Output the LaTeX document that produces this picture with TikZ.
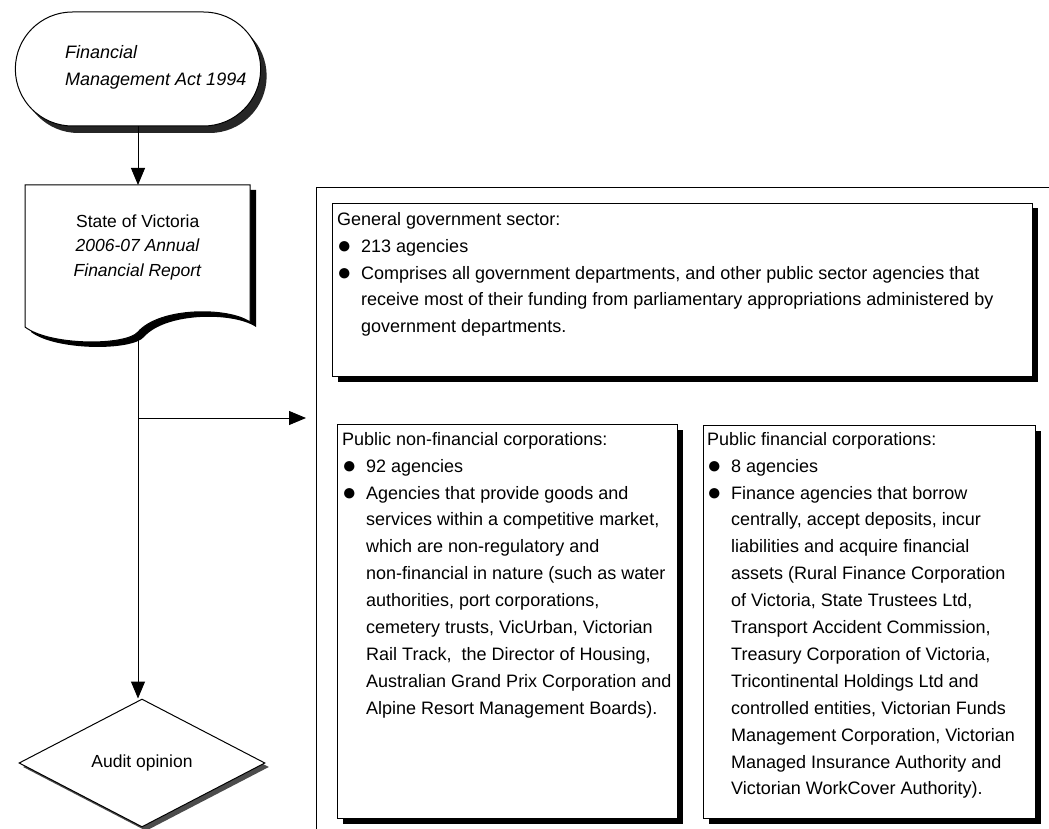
\documentclass[tikz,border=0pt]{standalone}
\usepackage{fontspec}
\setmainfont{Liberation Sans}
\usepackage{tikz}
\usetikzlibrary{shapes,shapes.geometric,shapes.misc,arrows,arrows.meta,shadows}

\newcommand{\itm}{\makebox[24pt][l]{\raisebox{-1pt}{\fontsize{24}{24}\selectfont ●}}}
\newcommand{\ind}{\hspace*{24pt}}
\newcommand{\reportpath}{(25,185) -- (250,185) -- (250,322) .. controls (228,307) and (160,307) .. (138,332) .. controls (126,346) and (50,346) .. (25,327) -- cycle}

\tikzset{
    flowline/.style={line width=1pt},
    flowarrow/.style={line width=1pt,-{Triangle[length=17pt,width=14pt]}},
    hardshadow/.style={drop shadow={shadow xshift=5pt,shadow yshift=-5pt,fill=black,opacity=1}},
    terminal/.style={rounded rectangle,draw,line width=1pt,fill=white,minimum width=252pt,minimum height=114pt,
        drop shadow={shadow xshift=6pt,shadow yshift=-7pt,fill=black!85,opacity=1}},
    decision/.style={diamond,draw,line width=1pt,fill=white,minimum width=246pt,minimum height=128pt,inner sep=0pt,
        drop shadow={shadow xshift=4pt,shadow yshift=-4pt,fill=black!70,opacity=1}},
    panel/.style={draw,line width=1pt,fill=white,hardshadow,anchor=north west,inner sep=0pt},
    paneltext/.style={anchor=north west,align=left,inner sep=0pt,font=\fontsize{18}{26.9}\selectfont},
}

\begin{document}
\begin{tikzpicture}[x=1pt,y=-1pt]
    \useasboundingbox (0,0) rectangle (1049,829);

    % Draw the act terminator
    \node[terminal] (act) at (138,69) {};
    \node[anchor=north west,align=left,inner sep=0pt,font=\fontsize{18}{27}\selectfont\itshape] (acttext) at (65,45)
        {Financial\\Management Act 1994};

    % Draw the report document
    \fill[black,shift={(6,5)}] \reportpath;
    \filldraw[flowline,fill=white] \reportpath;
    \node[minimum width=225pt,minimum height=124pt,anchor=north west,inner sep=0pt,align=center,
        font=\fontsize{17.5}{24.5}\selectfont] (report) at (25,185)
        {State of Victoria\\\textit{2006-07 Annual}\\\textit{Financial Report}};
    \coordinate (tail) at (138,332);

    % Draw the audit opinion
    \node[decision,font=\fontsize{17.5}{20}\selectfont] (audit) at (142,763) {Audit opinion};

    % Flow connectors
    \draw[flowarrow] (act.south) -- (act.south |- report.north);
    \draw[flowarrow] (tail) -- (tail |- audit.north);
    \coordinate (split) at (138,418);
    \coordinate (frame) at (316,188);
    \draw[flowarrow] (split) -- ([xshift=-10pt]split -| frame);

    % Sector bracket
    \draw[flowline] (316,829) -- (frame) -- (1049,188);

    % Sector panels
    \node[panel,minimum width=700pt,minimum height=173pt] (gen) at (332,203) {};
    \node[panel,minimum width=340pt,minimum height=394pt] (pnfc) at (337,424) {};
    \node[panel,minimum width=332pt,minimum height=393pt] (pfc) at (703,425) {};

    \node[paneltext] (gentext) at (337,212) {General government sector:\\
        \itm 213 agencies\\
        \itm Comprises all government departments, and other public sector agencies that\\
        \ind receive most of their funding from parliamentary appropriations administered by\\
        \ind government departments.};

    \node[paneltext] (pnfctext) at (342,432) {Public non-financial corporations:\\
        \itm 92 agencies\\
        \itm Agencies that provide goods and\\
        \ind services within a competitive market,\\
        \ind which are non-regulatory and\\
        \ind non-financial in nature (such as water\\
        \ind authorities, port corporations,\\
        \ind cemetery trusts, VicUrban, Victorian\\
        \ind Rail Track,\ \ the Director of Housing,\\
        \ind Australian Grand Prix Corporation and\\
        \ind Alpine Resort Management Boards).};

    \node[paneltext] (pfctext) at (707,432) {Public financial corporations:\\
        \itm 8 agencies\\
        \itm Finance agencies that borrow\\
        \ind centrally, accept deposits, incur\\
        \ind liabilities and acquire financial\\
        \ind assets (Rural Finance Corporation\\
        \ind of Victoria, State Trustees Ltd,\\
        \ind Transport Accident Commission,\\
        \ind Treasury Corporation of Victoria,\\
        \ind Tricontinental Holdings Ltd and\\
        \ind controlled entities, Victorian Funds\\
        \ind Management Corporation, Victorian\\
        \ind Managed Insurance Authority and\\
        \ind Victorian WorkCover Authority).};
\end{tikzpicture}
\end{document}
